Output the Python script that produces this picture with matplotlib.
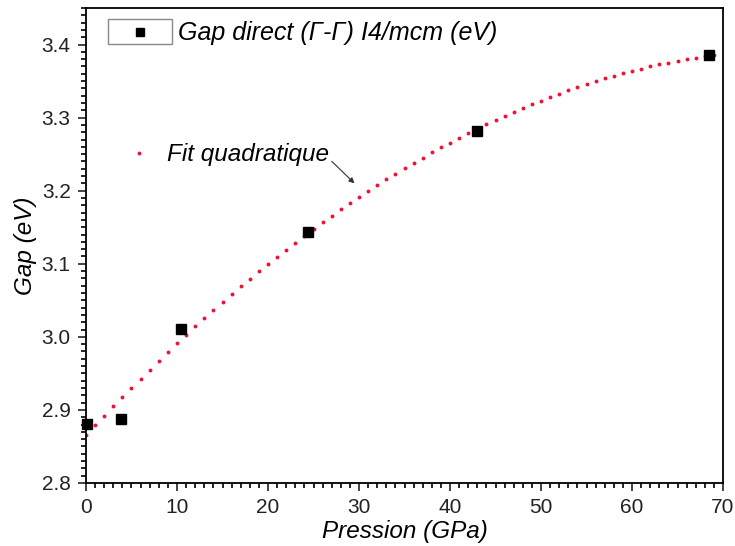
import numpy as np
import matplotlib.pyplot as plt
from matplotlib.patches import Rectangle
from matplotlib.ticker import MultipleLocator

plt.rcParams['font.family'] = ['Liberation Sans', 'DejaVu Sans']

# points
pression = [0.1, 3.9, 10.4, 24.4, 43.0, 68.5]
gap = [2.881, 2.888, 3.011, 3.144, 3.281, 3.386]

# quadratic fit of the points, drawn as dots every 1 GPa
coef = np.polyfit(pression, gap, 2)
x_fit = np.arange(0, 70)
y_fit = np.polyval(coef, x_fit)

fig = plt.figure(figsize=(7.35, 5.46), dpi=100)
ax = fig.add_axes([0.117, 0.1154, 0.8667, 0.87])

ax.plot(x_fit, y_fit, linestyle="none", marker="o", markersize=2.8,
        color="#ee1133", markeredgewidth=0)
ax.plot(pression, gap, linestyle="none", marker="s", markersize=7,
        color="black", clip_on=False, zorder=3)

ax.set_xlim(0, 70)
ax.set_ylim(2.8, 3.45)
ax.xaxis.set_major_locator(MultipleLocator(10))
ax.xaxis.set_minor_locator(MultipleLocator(1))
ax.yaxis.set_major_locator(MultipleLocator(0.1))
ax.yaxis.set_minor_locator(MultipleLocator(0.01))
ax.yaxis.set_major_formatter(plt.FormatStrFormatter("%.1f"))
ax.tick_params(which="major", direction="out", length=6, width=1.2,
               labelsize=15, colors="#222222", pad=5)
ax.tick_params(which="minor", direction="out", length=3.5, width=1.2)
for s in ax.spines.values():
    s.set_linewidth(1.3)

ax.set_xlabel("Pression (GPa)", fontsize=17.5, fontstyle="italic", labelpad=2)
ax.set_ylabel("Gap (eV)", fontsize=17.5, fontstyle="italic", labelpad=3)

# legend for the squares: small box around the symbol, text beside it
fig.patches.append(Rectangle((108 / 735, 1 - 44 / 546), 64 / 735, 25 / 546,
                             transform=fig.transFigure, fill=False,
                             edgecolor="#888888", linewidth=1))
fig.lines.append(plt.Line2D([140 / 735], [1 - 32 / 546], marker="s",
                            markersize=6, color="black",
                            transform=fig.transFigure))
fig.text(178 / 735, 1 - 33 / 546, "Gap direct (\u0393-\u0393) I4/mcm (eV)",
         fontsize=18, fontstyle="italic", va="center", ha="left")

# fit label with arrow
fig.lines.append(plt.Line2D([139 / 735], [1 - 153 / 546], marker="o",
                            markersize=2.8, color="#ee1133",
                            markeredgewidth=0, transform=fig.transFigure))
ax.annotate("Fit quadratique", xy=(29.5, 3.21),
            xytext=(167 / 735, 1 - 154 / 546), textcoords="figure fraction",
            fontsize=17.5, fontstyle="italic", va="center", ha="left",
            arrowprops=dict(arrowstyle="-|>", color="#333333", lw=0.8,
                            mutation_scale=8, shrinkA=0, shrinkB=0,
                            relpos=(1.0, 0.3)))

fig.savefig("out.png", dpi=100)
